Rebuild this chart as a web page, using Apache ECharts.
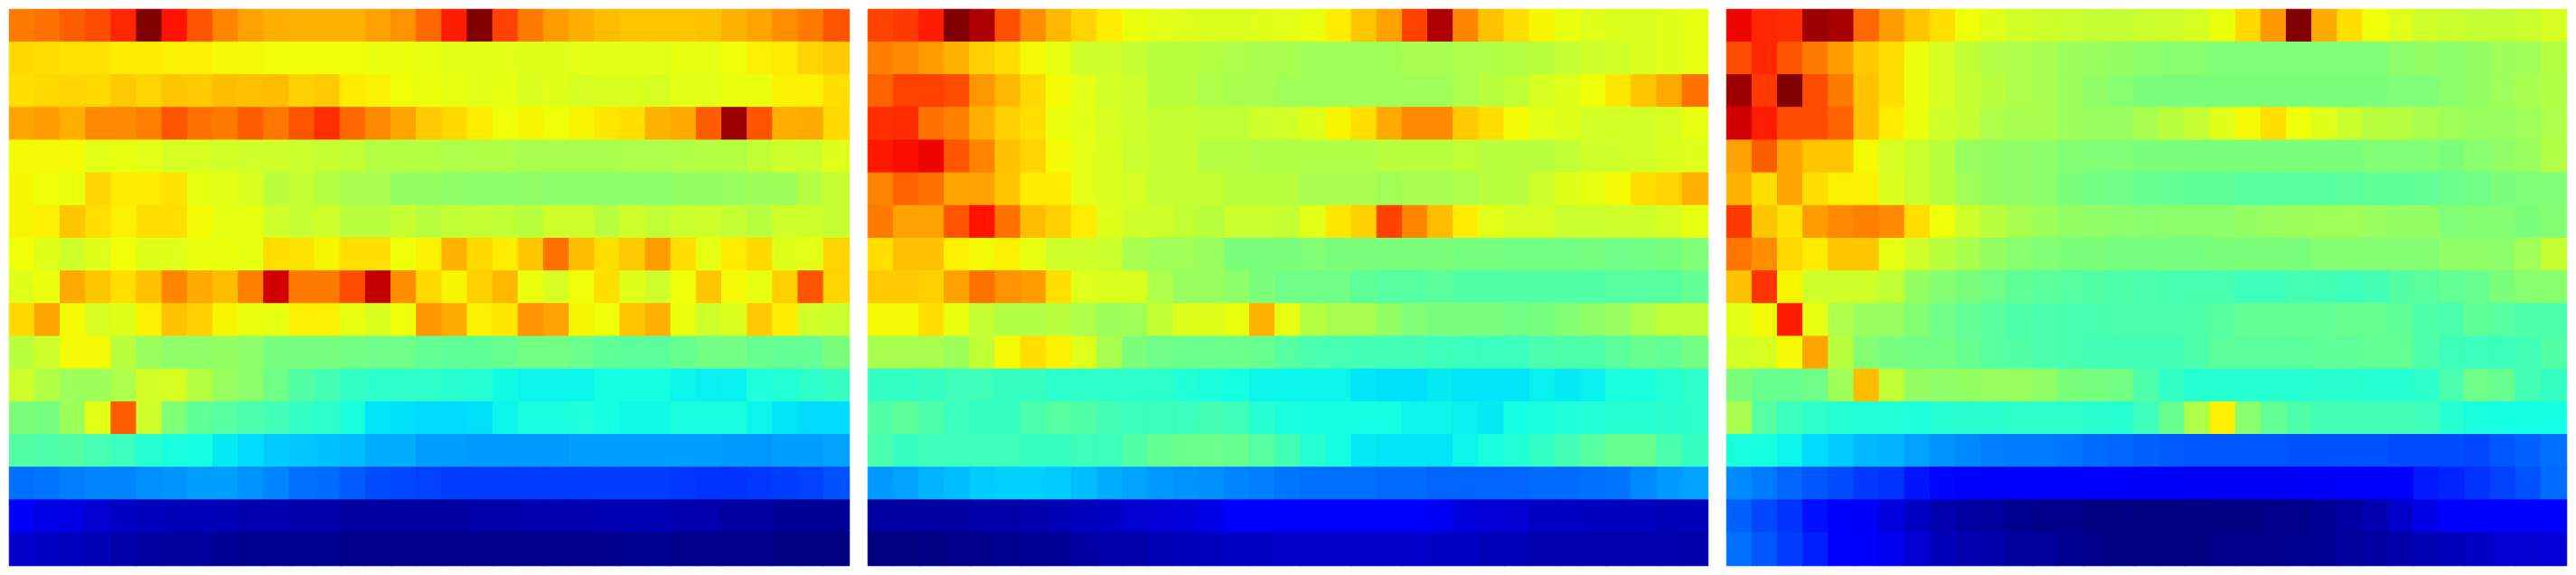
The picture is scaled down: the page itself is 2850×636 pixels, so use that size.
<!DOCTYPE html>
<html>
<head>
<meta charset="utf-8">
<style>html,body{margin:0;padding:0;background:#fff}#c{width:2850px;height:636px}</style>
<script src="https://cdn.jsdelivr.net/npm/echarts@6/dist/echarts.min.js"></script>
</head>
<body>
<div id="c"></div>
<script>
const colCount = 33;
const rowCount = 17;
const panelA = [
[78,79,81,83,87,100,89,82,77,74,72.5,72,72,72,74,75.5,80,88,100,84,78,74.5,72.5,71,70,70,70,70.5,72,73.5,76,78,82],
[68,67.5,67,67,66,66,65.5,65.5,64.5,64.5,64,64,64,64,63.5,63.5,63,62.5,62.5,62.5,62,62,62.5,62.5,62.5,62.5,63,63,64,65.5,66,68.5,69.5],
[67.5,68,68.5,68,69.5,68.5,70,69.5,71,70.5,71,69,69.5,66,65.5,64,63.5,63,62.5,63,61.5,62,61,61.5,61.5,61,62.5,62.5,63.5,63.5,65.5,65.5,67.5],
[73.5,74.5,72.5,76.5,76.5,77.5,82,79,78,81,78.5,82,86,80,76.5,73.5,69.5,68,66,64,65,64,65,66.5,67.5,72,73,81,97.5,82,72.5,73,68],
[64.5,64.5,64.5,62.5,63,62.5,61,61,60.5,60,60,59.5,59,58.5,57,57,57,56,56.5,56.5,55.5,55.5,55.5,55.5,56,56,56.5,57,57,58.5,60,59.5,62],
[65,64,63.5,68.5,66,66,67,63,62.5,61.5,57.5,59,57,55.5,55.5,53,53,52.5,52,52,52.5,52,52,52,52,52,53,53,53.5,54,54,57,59],
[65,65.5,70,67.5,65.5,67.5,67.5,64.5,63,63,60,59,60,57.5,57.5,59,57.5,58.5,59,58.5,57.5,60,60,57.5,60,58.5,59.5,60,59,57.5,60,60,59],
[64,62,60,62,64,62,62,63.5,63.5,63,67.5,67,65,67.5,67.5,64,65.5,72,68,66,70,79,71,67.5,69.5,74.5,67.5,63,66,68,62,62.5,68.5],
[62,63.5,73,70,67.5,70.5,77,73,71,77.5,93,78,78,83,94,76,68,65,69,71.5,63.5,61,64,67.5,62,60,64,70,64.5,63,69,82,68.5],
[68,73.5,64.5,61,62,65.5,70.5,69,65,63.5,63,65.5,65.5,63,61.5,64,75,73,65.5,66.5,75.5,74,65,64,70,72.5,63.5,60,61.5,69.5,66,60.5,59.5],
[57.5,60,64.5,64.5,57.5,53.5,52.5,52.5,53,52,49.5,49.5,49.5,49,48.5,48.5,47,46.5,46.5,47.5,49,49,48,46.5,46,46,47.5,49,49,47.5,47,47,50],
[60,56.5,54,54,56,60.5,61,57,53.5,52,48.5,45,43,41,40.5,40.5,40.5,40,39.5,37,36.5,36.5,36.5,37.5,37.5,37.5,36.5,36,36,38.5,39,40.5,41.5],
[50,49.5,54,62.5,81,60,50.5,46.5,45.5,44,43,41,40.5,38,35,34.5,34,34,34.5,36.5,38,38,38.5,37.5,37,37,38,38,38,36.5,35,34,34],
[45,44.5,45,43.5,42,39.5,38,37.5,35.5,34,32.5,32,31.5,31,29.5,29.5,28,28,27.5,27.5,27.5,27.5,28,28,28,28,28,28,27.5,27.5,28,28,28.5],
[23.5,24,25,25.5,25.5,26.5,27,28,28,27,25.5,23.5,23,21.5,20,19.5,19,18.5,18.5,18.5,18.5,18.5,18.5,18.5,18.5,18.5,18,17.5,17.5,18,18.5,19,20.5],
[10.5,9,8.5,7,6,5.5,5,5,4.5,4,4,3.5,3.5,3,3,3,3,3,3.5,3.5,4,4,4,4.5,4.5,4.5,4,4,3,3,2,2,2],
[6.5,6,5.5,4.5,3.5,3,2.5,2.5,2,1.5,1.5,1.5,1.5,1,1,1,1,1,1,1,1,1,1,1,1.5,1.5,1,1,1,1,0.5,0.5,0]
];
const panelB = [
[84,85,88,100,96,82.5,76,71.5,68.5,66,63.5,62.5,62,61.5,61.5,62,62.5,63.5,66,70,74,84,96,77,70.5,67.5,65,63.5,62,61.5,61.5,62,63],
[77.5,76.5,74.5,72,69,67.5,64.5,63,60,60,59,57.5,57.5,57,56,55.5,55.5,54.5,54.5,54.5,54.5,55.5,55.5,56,56.5,57,57.5,59,60,60.5,61.5,62,63],
[80.5,84,84,83,75,71.5,68,64.5,62.5,60.5,60,57.5,57.5,56,55.5,55.5,54.5,54.5,54.5,54.5,54.5,54.5,54.5,56,57.5,58.5,61,62,64,66.5,70,73,79],
[86,86.5,79,77.5,72.5,69,67.5,63.5,62.5,61,60,59,59,58.5,58.5,60,60.5,62,65,67.5,73,76.5,76.5,69.5,67.5,64.5,62.5,62,60.5,60.5,60.5,61,63],
[88.5,89.5,90.5,82,77,70.5,68.5,64.5,62.5,61.5,59.5,59,59,57,57,56.5,56.5,56.5,56.5,56.5,57.5,57.5,57.5,58.5,57.5,57.5,57.5,58.5,60,60,60.5,61.5,62],
[77,80.5,79,73.5,74,70,66,66,62.5,61.5,61,59,59,59,57.5,57.5,57.5,55.5,55.5,55.5,54.5,55.5,55.5,56,57.5,57.5,60,62,63,64.5,67.5,68.5,72.5],
[78,74,74,82,89,79,71,69,66,62,60,60,58.5,57.5,59.5,59.5,59,62.5,66.5,69,84,77,71,66,62.5,61,61,59.5,59.5,60,60,61,63],
[67.5,70.5,70.5,65.5,64.5,65.5,63,60,60,59.5,55.5,54.5,54.5,53.5,50,50,50,50.5,50,50,50,50,50,49.5,49.5,49,49,49,49.5,48.5,49,49.5,50.5],
[69.5,69.5,69,74,79,75.5,74.5,67.5,62,61.5,61.5,56,53.5,53.5,52,50,48.5,48.5,48.5,46.5,45.5,45.5,46,45,45,45,45,45,45,45.5,45.5,45.5,47],
[64.5,64.5,67.5,63.5,59,56.5,56.5,57.5,56,54,54.5,58.5,62,62,63.5,72,63,57,55.5,55.5,53,50.5,50,50,50,49,49.5,51,52.5,53.5,56,58.5,58.5],
[55.5,55.5,55.5,54,58.5,64.5,67.5,65.5,62,55.5,50,48.5,48,48,48,47.5,45.5,44,43.5,43,43,43,42.5,42,42,42,44,44.5,44.5,46,47.5,47,49],
[41,41,41.5,42.5,42.5,41.5,41.5,40.5,40.5,40.5,40.5,40.5,39,38,37.5,36.5,36.5,36.5,36.5,35,34.5,34.5,35.5,35,35,35,36,35.5,36,38,38,39.5,40.5],
[45,46,44.5,42,41.5,41.5,44,45.5,45,43,42,42,42,43,42.5,39.5,38,37.5,37.5,37.5,37.5,36.5,36.5,36,35.5,37.5,38,38.5,39,39.5,39.5,40,40.5],
[44,41.5,42.5,42.5,42.5,42.5,41.5,41.5,42.5,42,45,47,48,48,47.5,45.5,43,39.5,37.5,35.5,35,35,35,36.5,38,39,41,43,45.5,47.5,47.5,44,41.5],
[27.5,28.5,30,31,32.5,33,33,32.5,31,29.5,28.5,27.5,27,26.5,25.5,25,24,23.5,23.5,23.5,23,23,22.5,22.5,22.5,22.5,23,23,23.5,24,26,27.5,28.5],
[3,3,3,3,3.5,3.5,4,4.5,5.5,6,7,7.5,8,9,11,11.5,12,12,12,12,12,11,10,8,7.5,7,6,6,5.5,5.5,5.5,5,5],
[0,0,0.5,1,1,1.5,2,2,3,3.5,3.5,4.5,5,5.5,6,6,6.5,6.5,6.5,6.5,6.5,6.5,6,6,5,5,4,4,4,4,4,4,3.5]
];
const panelC = [
[90.5,87,86.5,97.5,96.5,80,74.5,70,67.5,64,62,60.5,60,59.5,59,59,59.5,60,61,63.5,68,75,100,73,67.5,64,62,60,59.5,59,59,59.5,61],
[83,87,82,78,74.5,69.5,67.5,63.5,61,58.5,56.5,56,55.5,54,53.5,53,52,51.5,51.5,50.5,50.5,50.5,50.5,50.5,50.5,50.5,52,53,52,53,54,54.5,57],
[97.5,85,100,83,78,70.5,67.5,63.5,61,59,57.5,56,55.5,54,52.5,51.5,50,50,50,50,50,50,50,50,50,50,50.5,50.5,52,53,54,55.5,56.5],
[93,88,83,83,80.5,70.5,66,63.5,60,59,56,55.5,55.5,54,53.5,53.5,55.5,57.5,59,62,64.5,67.5,64,62,59.5,57.5,57,55.5,54.5,53.5,53.5,54.5,56],
[74,81,73.5,70,70,64.5,61,59.5,57.5,53.5,53,52.5,52,51,50.5,50.5,50,50,50,50,50,50,50,50,50,50.5,50.5,50.5,50,51.5,52.5,53.5,56.5],
[72,67.5,73.5,67.5,65.5,65.5,61.5,59.5,57.5,54.5,53,52.5,52,50,49,48.5,47.5,47,46.5,46.5,45.5,45.5,45.5,45.5,46,46.5,46.5,47,48,48.5,50,50.5,50.5],
[85,70,67,74.5,76.5,77.5,76.5,67.5,64,60,57.5,55.5,54,53,52.5,52,51.5,52,52,52,53,53.5,54,54.5,54.5,53.5,53,53,50.5,51,51,50,51],
[78.5,76,68,66,70,70,63,60,57.5,55.5,53,51.5,50.5,50,50,49.5,49.5,49.5,49.5,50,50,50,50,51,51,51,51,51,52.5,52.5,52,54.5,59],
[70.5,85.5,65,60,60,60,58.5,53,51,50,48.5,46.5,46,45.5,45,44.5,44,43.5,43.5,43.5,42.5,42.5,43.5,43,42.5,43,45,46,47,47.5,50,51.5,51.5],
[62.5,64.5,88,63,56,53.5,53.5,51,48.5,47,45.5,44.5,44,43.5,43.5,44,44,44,44.5,45.5,47,47,47,47,47.5,47.5,46.5,44.5,44,46.5,45.5,44.5,44.5],
[60.5,61,64.5,73.5,57.5,51,49.5,49,49,47.5,45.5,45,44,43.5,43,43,43,43,44.5,46,46,46,46,46.5,46.5,47,47,44.5,42.5,42,42,43,45],
[50,47.5,47.5,48.5,54.5,71,58.5,53,52.5,53,53.5,53.5,52.5,50,49.5,49,44.5,41,39.5,39.5,39.5,39.5,39.5,40,40,39.5,39.5,40.5,44,48.5,47.5,43,41.5],
[55.5,45.5,42,40.5,39.5,39,39,38.5,39.5,40,40,40.5,40.5,40.5,40,39.5,42.5,47.5,56,65.5,51.5,47,44.5,43,43,43,43,42.5,39.5,38,37.5,37.5,37.5],
[38,37.5,36.5,34,32.5,30.5,30,28.5,27,26,25,24.5,24.5,24,23,22.5,22,21.5,21,21,21,21,20.5,20.5,20.5,20.5,20,20,20,19.5,21,22,23.5],
[26,24.5,22.5,21,20,18,17.5,14.5,13,12.5,12,12,12,11.5,11,11,10.5,10.5,10,10,10,10,10.5,10.5,11,11.5,12,15,16,17.5,19,20.5,23],
[22,19.5,17.5,14,12,10.5,8,6,4,3,2.5,1.5,1,1,0.5,0.5,0,0,0,0.5,0.5,1,1,2,3,4,6.5,9,11,11.5,12,12,12],
[23.5,21,18.5,15.5,12,12,9.5,7,5,4,3.5,2.5,2.5,1.5,1,0.5,0.5,0,0,1,1,1,1.5,2,2.5,3,3.5,4.5,5,6,7,7,7.5]
];

// matplotlib "jet" colour ramp
function seg(v, pts) {
  for (let i = 1; i < pts.length; i++) {
    if (v <= pts[i][0]) {
      const t = (v - pts[i-1][0]) / (pts[i][0] - pts[i-1][0]);
      return pts[i-1][1] + t * (pts[i][1] - pts[i-1][1]);
    }
  }
  return pts[pts.length-1][1];
}
function jetColor(pct) {
  const v = pct / 100;
  const r = seg(v, [[0,0],[.35,0],[.66,1],[.89,1],[1,.5]]);
  const g = seg(v, [[0,0],[.125,0],[.375,1],[.64,1],[.91,0],[1,0]]);
  const b = seg(v, [[0,.5],[.11,1],[.34,1],[.65,0],[1,0]]);
  return `rgb(${Math.round(r*255)},${Math.round(g*255)},${Math.round(b*255)})`;
}
const jet = [];
for (let i = 0; i <= 200; i++) jet.push(jetColor(i / 2));

const panels = [panelA, panelB, panelC];
const lefts = [10.5, 960.5, 1910.5];
const xCats = Array.from({length: colCount}, (_, i) => String(i));
const yCats = Array.from({length: rowCount}, (_, i) => String(i));
const chart = echarts.init(document.getElementById('c'), null, {renderer: 'canvas'});
chart.setOption({
  animation: false,
  backgroundColor: '#fff',
  grid: lefts.map(l => ({left: l, top: 10.5, width: 929, height: 615})),
  xAxis: lefts.map((_, i) => ({type: 'category', gridIndex: i, data: xCats, show: false})),
  yAxis: lefts.map((_, i) => ({type: 'category', gridIndex: i, data: yCats, inverse: true, show: false})),
  visualMap: {show: false, min: 0, max: 100, dimension: 2, seriesIndex: [0, 1, 2], inRange: {color: jet}},
  series: panels.map((p, i) => ({
    type: 'heatmap',
    xAxisIndex: i,
    yAxisIndex: i,
    silent: true,
    progressive: 0,
    data: p.flatMap((row, y) => row.map((v, x) => ({
      value: [x, y, v],
      itemStyle: {borderWidth: 1, borderColor: jetColor(v)}
    })))
  }))
});
</script>
</body>
</html>
